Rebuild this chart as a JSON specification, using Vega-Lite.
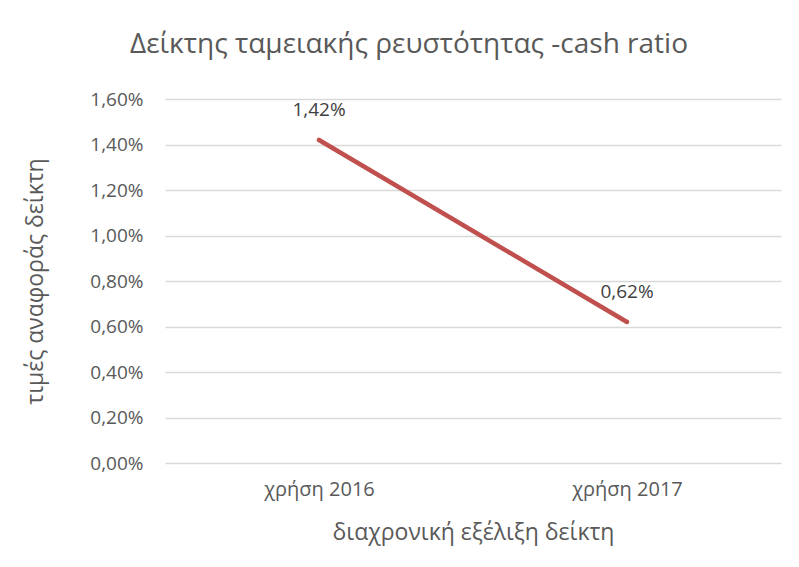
{
  "$schema": "https://vega.github.io/schema/vega-lite/v6.json",
  "width": 616,
  "height": 364,
  "autosize": "none",
  "padding": {"left": 165, "top": 99, "right": 18, "bottom": 104},
  "background": "white",
  "title": {
    "text": "Δείκτης ταμειακής ρευστότητας -cash ratio",
    "font": "Open Sans",
    "fontSize": 28,
    "fontWeight": "normal",
    "color": "#595959",
    "anchor": "middle",
    "dx": -64,
    "offset": 31
  },
  "data": {
    "values": [
      {"year": "χρήση 2016", "ratio": 0.0142},
      {"year": "χρήση 2017", "ratio": 0.0062}
    ]
  },
  "encoding": {
    "x": {
      "field": "year",
      "type": "nominal",
      "sort": null,
      "scale": {"paddingInner": 0, "paddingOuter": 0},
      "axis": {
        "title": "διαχρονική εξέλιξη δείκτη",
        "labelAngle": 0,
        "domain": false,
        "ticks": false,
        "labelPadding": 16,
        "titlePadding": 22,
        "labelFontSize": 20,
        "titleFontSize": 23
      }
    },
    "y": {
      "field": "ratio",
      "type": "quantitative",
      "scale": {"domain": [0, 0.016], "nice": false},
      "axis": {
        "title": "τιμές αναφοράς δείκτη",
        "format": ".2%",
        "values": [0, 0.002, 0.004, 0.006, 0.008, 0.01, 0.012, 0.014, 0.016],
        "domain": false,
        "ticks": false,
        "labelPadding": 22,
        "titlePadding": 42,
        "labelFontSize": 19,
        "titleFontSize": 23
      }
    }
  },
  "layer": [
    {
      "mark": {"type": "line", "color": "#C0504D", "strokeWidth": 4.5, "strokeCap": "round"}
    },
    {
      "mark": {"type": "text", "dy": -30, "fontSize": 19, "font": "Open Sans", "color": "#404040"},
      "encoding": {
        "text": {"field": "ratio", "type": "quantitative", "format": ".2%"}
      }
    }
  ],
  "config": {
    "locale": {
      "number": {"decimal": ",", "thousands": ".", "grouping": [3], "currency": ["", " €"]}
    },
    "font": "Open Sans",
    "view": {"stroke": null},
    "axis": {
      "labelColor": "#595959",
      "titleColor": "#595959",
      "labelFont": "Open Sans",
      "titleFont": "Open Sans",
      "titleFontWeight": "normal",
      "gridColor": "#d9d9d9",
      "gridWidth": 1.3
    },
    "axisX": {"grid": false}
  }
}
